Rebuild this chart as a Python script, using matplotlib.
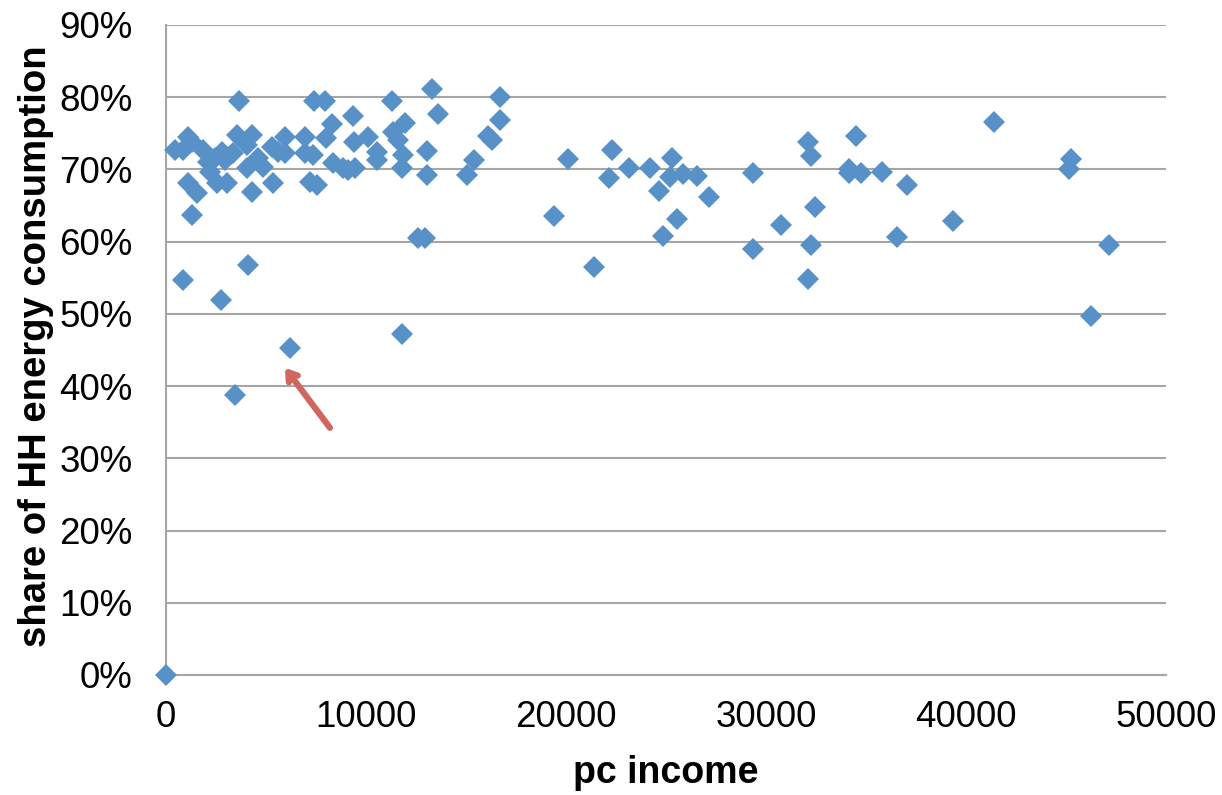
import matplotlib

matplotlib.use("Agg")
import matplotlib.pyplot as plt
from matplotlib.ticker import PercentFormatter, MultipleLocator
from matplotlib.transforms import offset_copy


plt.rcParams["font.family"] = ["Liberation Sans", "DejaVu Sans"]

# per-capita income vs share of household energy consumption (%)
pc_income = [
    0, 450, 850, 850, 1100, 1300, 1100, 1550, 1300, 1850,
    2200, 2100, 2450, 2550, 2800, 2750, 2950, 3050, 3350, 3550,
    3450, 3650, 4050, 4050, 4100, 4300, 4300, 4600, 4850, 5300,
    5350, 5600, 5950, 5950, 6200, 6950, 6950, 7200, 7350, 7400,
    7550, 7950, 8000, 8300, 8350, 8850, 9100, 9450, 9350, 9400,
    10100, 10550, 10550, 11300, 11350, 11600, 11850, 11800, 11950, 11800,
    12600, 12950, 13050, 13050, 13300, 13600, 15050, 15400, 16100, 16300,
    16700, 16700,
    19400, 20100, 21400, 22150, 22300, 23150, 24200, 24650, 24850, 25200,
    25300, 25550, 25850, 26550, 27150, 29350, 29350, 30750, 32100, 32250,
    32100, 32250, 32450, 34150, 34150, 34500, 34750, 35800, 36550, 37050,
    39350, 41400, 45250, 45150, 47150, 46250,
]
hh_share = [
    0.0, 72.7, 54.7, 72.7, 74.5, 73.8, 68.1, 66.7, 63.7, 72.7,
    69.6, 71.0, 71.6, 68.1, 72.4, 51.9, 71.3, 68.1, 72.3, 74.8,
    38.8, 79.5, 73.4, 70.2, 56.8, 74.8, 66.9, 71.6, 70.3, 73.1,
    68.1, 72.4, 74.5, 72.3, 45.3, 74.5, 72.3, 68.3, 72.0, 79.5,
    67.8, 79.5, 74.4, 76.3, 70.9, 70.2, 69.9, 70.2, 77.4, 73.8,
    74.5, 72.4, 71.3, 79.5, 75.2, 74.1, 72.0, 70.2, 76.4, 47.2,
    60.5, 60.5, 72.6, 69.2, 81.1, 77.7, 69.2, 71.3, 74.6, 74.1,
    80.0, 76.8,
    63.6, 71.4, 56.5, 68.8, 72.7, 70.2, 70.2, 67.0, 60.8, 69.0,
    71.6, 63.1, 69.4, 69.1, 66.2, 69.5, 59.0, 62.3, 73.8, 71.9,
    54.8, 59.5, 64.8, 70.1, 69.5, 74.6, 69.5, 69.6, 60.6, 67.8,
    62.9, 76.6, 71.4, 70.1, 59.5, 49.7,
]

# the highlighted outlier
outlier_income = 6200
outlier_share = 45.3

x_ticks = [0, 10000, 20000, 30000, 40000, 50000]

grid_color = "#A6A6A6"
point_color = "#5891C8"
arrow_color = "#D0675F"

fig = plt.figure(figsize=(12.22, 7.95), dpi=100)
ax = fig.add_axes([0.1358, 0.151, 0.8183, 0.8176])

ax.plot(
    pc_income,
    hh_share,
    linestyle="none",
    marker="D",
    markersize=11.5,
    markerfacecolor=point_color,
    markeredgewidth=0,
    clip_on=False,
    zorder=3,
)

ax.set_xlim(0, 50000)
ax.set_ylim(0, 90)
ax.set_xticks(x_ticks)
ax.yaxis.set_major_locator(MultipleLocator(10))
ax.yaxis.set_major_formatter(PercentFormatter(100, decimals=0))

ax.grid(axis="y", color=grid_color, linewidth=1.5)
ax.grid(axis="x", visible=False)
ax.set_axisbelow(True)

for side in ["top", "right"]:
    ax.spines[side].set_visible(False)
for side in ["left", "bottom"]:
    ax.spines[side].set_color(grid_color)
    ax.spines[side].set_linewidth(1.5)

ax.tick_params(axis="both", length=0, labelsize=26.5, colors="black")
ax.tick_params(axis="y", pad=24)
ax.tick_params(axis="x", pad=18)

fig.text(
    666 / 1222, 1 - 773 / 795, "pc income",
    fontsize=27, fontweight="bold", ha="center", va="center",
)
fig.text(
    36 / 1222, 1 - 346 / 795, "share of HH energy consumption",
    fontsize=27.5, fontweight="bold", rotation=90, ha="center", va="center",
)

# arrow pointing at the outlier
tip = offset_copy(ax.transData, fig=fig, x=-5, y=-20, units="dots")
tail = offset_copy(ax.transData, fig=fig, x=40, y=-80, units="dots")
ax.annotate(
    "",
    xy=(outlier_income, outlier_share),
    xycoords=tip,
    xytext=(outlier_income, outlier_share),
    textcoords=tail,
    arrowprops=dict(
        arrowstyle="->,head_length=0.6,head_width=0.4",
        color=arrow_color,
        lw=4.5,
        shrinkA=0,
        shrinkB=0,
    ),
    zorder=4,
)

fig.savefig("out.png", dpi=100)
